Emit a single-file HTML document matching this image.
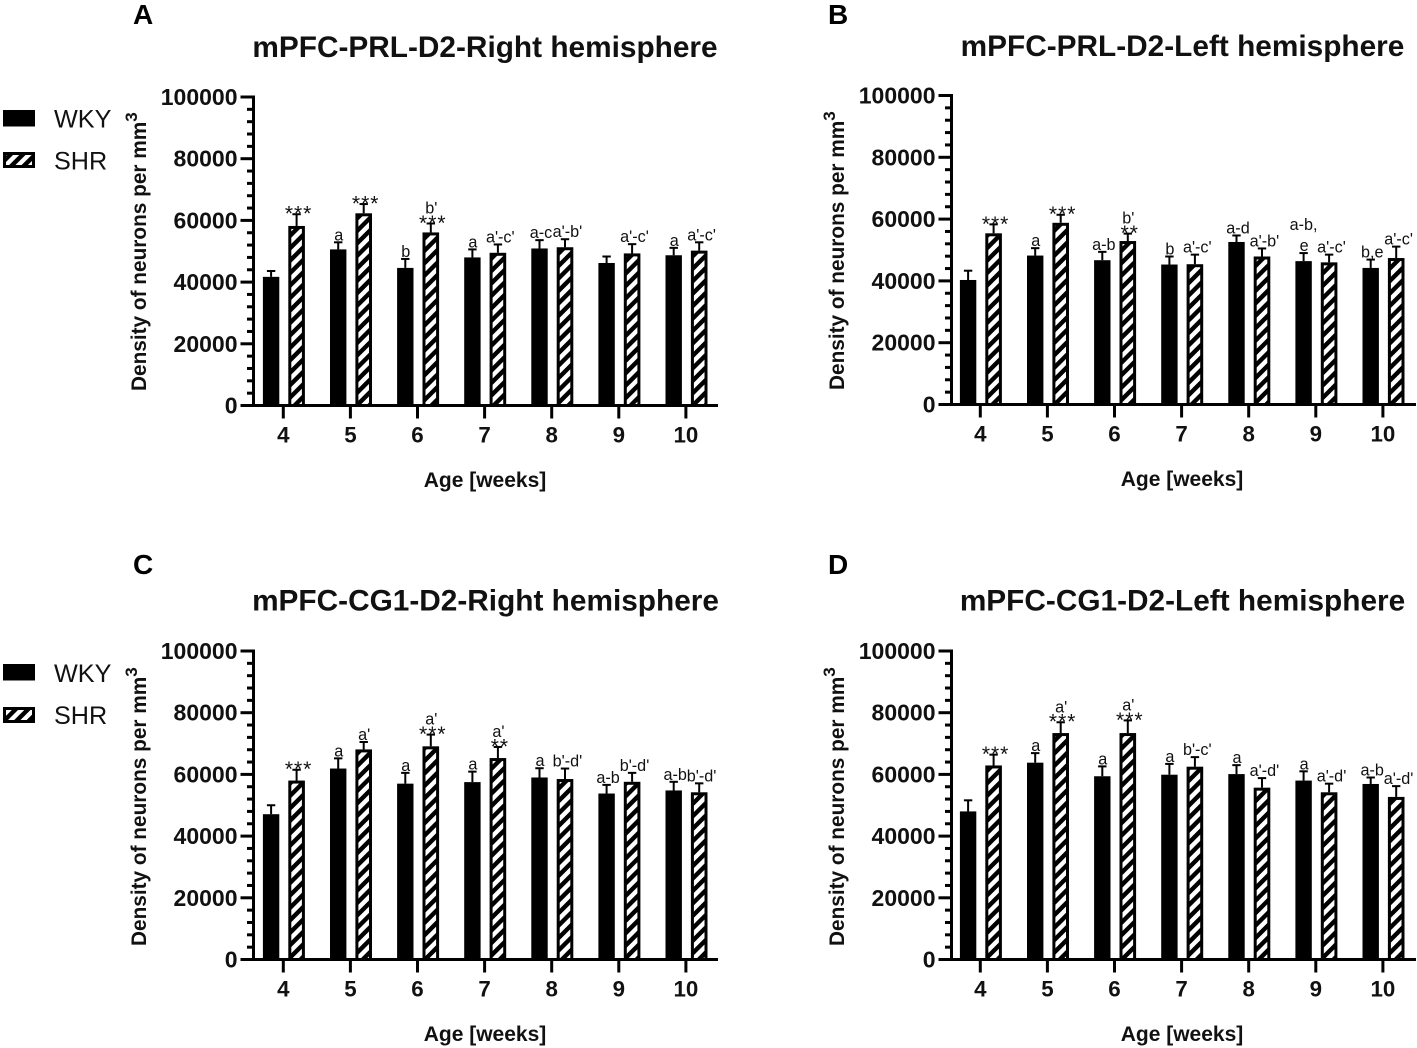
<!DOCTYPE html>
<html lang="en">
<head>
<meta charset="utf-8">
<title>Density of neurons per mm3 by age</title>
<style>
html,body{margin:0;padding:0;background:#fff;}
svg{display:block;font-family:"Liberation Sans",Arial,sans-serif;}
.title{font-weight:700;font-size:29.8px;text-anchor:middle;fill:#111;}
.letter{font-weight:700;font-size:28px;fill:#000;}
.legend{font-size:25.2px;fill:#111;}
.ylab{font-weight:700;font-size:20.8px;fill:#111;}
.xlab{font-weight:700;font-size:21px;text-anchor:middle;fill:#111;}
.tick-y{font-weight:700;font-size:23px;fill:#111;}
.tick-x{font-weight:700;font-size:22.3px;fill:#111;}
.note{font-size:16.2px;text-anchor:middle;fill:#111;}
.stars{font-size:21px;letter-spacing:1px;text-anchor:middle;fill:#111;}
</style>
</head>
<body>
<svg id="figure" xmlns="http://www.w3.org/2000/svg" width="1417" height="1048" viewBox="0 0 1417 1048">
<defs>
<pattern id="hatch" patternUnits="userSpaceOnUse" width="8.8" height="8.8" patternTransform="rotate(45)"><rect width="8.8" height="8.8" fill="#fff"/><rect width="4.4" height="8.8" fill="#000"/></pattern>
</defs>
<rect width="1417" height="1048" fill="#fff"/>

<g>
<text class="letter" x="133" y="24">A</text>
<text class="title" x="485" y="57">mPFC-PRL-D2-Right hemisphere</text>
</g>
<g>
<text class="letter" x="828" y="24">B</text>
<text class="title" x="1182.5" y="56">mPFC-PRL-D2-Left hemisphere</text>
</g>
<g>
<text class="letter" x="133" y="574">C</text>
<text class="title" x="485.5" y="610.5">mPFC-CG1-D2-Right hemisphere</text>
</g>
<g>
<text class="letter" x="828" y="574">D</text>
<text class="title" x="1182.5" y="610.5">mPFC-CG1-D2-Left hemisphere</text>
</g>

<g>
<g><rect x="3" y="110" width="32" height="16.5" fill="#000"/><text class="legend" x="54" y="127.5">WKY</text></g>
<g><rect x="4.5" y="153.5" width="29" height="13" fill="url(#hatch)" stroke="#000" stroke-width="3"/><text class="legend" x="54" y="169.5">SHR</text></g>
</g>
<g>
<g><rect x="3" y="664" width="32" height="16.5" fill="#000"/><text class="legend" x="54" y="682">WKY</text></g>
<g><rect x="4.5" y="708.5" width="29" height="13" fill="url(#hatch)" stroke="#000" stroke-width="3"/><text class="legend" x="54" y="724">SHR</text></g>
</g>

<text class="ylab" transform="translate(146,391) rotate(-90)">Density of neurons per mm<tspan font-size="17" dy="-9">3</tspan></text>
<text class="ylab" transform="translate(844,390) rotate(-90)">Density of neurons per mm<tspan font-size="17" dy="-9">3</tspan></text>
<text class="ylab" transform="translate(146,946) rotate(-90)">Density of neurons per mm<tspan font-size="17" dy="-9">3</tspan></text>
<text class="ylab" transform="translate(844,946) rotate(-90)">Density of neurons per mm<tspan font-size="17" dy="-9">3</tspan></text>

<text class="xlab" x="485" y="487">Age [weeks]</text>
<text class="xlab" x="1182" y="486">Age [weeks]</text>
<text class="xlab" x="485" y="1041">Age [weeks]</text>
<text class="xlab" x="1182" y="1041">Age [weeks]</text>
</svg>

<script>
const categories = ["4", "5", "6", "7", "8", "9", "10"];
const yTickLabels = [0, 20000, 40000, 60000, 80000, 100000];

const aWky = [41700, 50600, 44600, 48000, 50900, 46200, 48700];
const aWkyErr = [1900, 2300, 2900, 2600, 2700, 2100, 2400];
const aShr = [58200, 62300, 56100, 49500, 51300, 49300, 50200];
const aShrErr = [3800, 3000, 2900, 2700, 2600, 3000, 2700];
const aWkyNotes = [[], ["a"], ["b"], ["a"], ["a-c"], [], ["a"]];
const aShrNotes = [["***"], ["***"], ["b'", "***"], ["a'-c'"], ["a'-b'"], ["a'-c'"], ["a'-c'"]];

const bWky = [40300, 48200, 46700, 45300, 52600, 46400, 44200];
const bWkyErr = [3000, 2400, 2700, 2600, 2100, 2600, 2700];
const bShr = [55400, 58800, 52900, 45400, 47900, 46000, 47400];
const bShrErr = [2900, 2600, 2400, 3100, 2600, 2500, 3700];
const bWkyNotes = [[], ["a"], ["a-b"], ["b"], ["a-d"], ["a-b,", "e"], ["b,e"]];
const bShrNotes = [["***"], ["***"], ["b'", "**"], ["a'-c'"], ["a'-b'"], ["a'-c'"], ["a'-c'"]];

const cWky = [47100, 61900, 57000, 57500, 59000, 53800, 54800];
const cWkyErr = [2900, 3300, 3500, 3400, 3000, 2800, 2800];
const cShr = [58000, 68100, 69100, 65300, 58500, 57600, 54200];
const cShrErr = [3500, 2400, 3800, 3600, 3400, 2900, 2900];
const cWkyNotes = [[], ["a"], ["a"], ["a"], ["a"], ["a-b"], ["a-b"]];
const cShrNotes = [["***"], ["a'"], ["a'", "***"], ["a'", "**"], ["b'-d'"], ["b'-d'"], ["b'-d'"]];

const dWky = [48000, 63800, 59400, 59900, 60100, 58000, 56900];
const dWkyErr = [3600, 3100, 3200, 3500, 2900, 3000, 2100];
const dShr = [62900, 73400, 73400, 62500, 55700, 54200, 52700];
const dShrErr = [3500, 3500, 4100, 3100, 3100, 2800, 3500];
const dWkyNotes = [[], ["a"], ["a"], ["a"], ["a"], ["a"], ["a-b"]];
const dShrNotes = [["***"], ["a'", "***"], ["a'", "***"], ["b'-c'"], ["a'-d'"], ["a'-d'"], ["a'-d'"]];

const panels = [
  {id: "a", wky: aWky, wkyErr: aWkyErr, shr: aShr, shrErr: aShrErr, wkyNotes: aWkyNotes, shrNotes: aShrNotes, axisX: 253.5, y0: 405.5, yTop: 97, firstTick: 283.3},
  {id: "b", wky: bWky, wkyErr: bWkyErr, shr: bShr, shrErr: bShrErr, wkyNotes: bWkyNotes, shrNotes: bShrNotes, axisX: 951.5, y0: 404.5, yTop: 95.5, firstTick: 980.3},
  {id: "c", wky: cWky, wkyErr: cWkyErr, shr: cShr, shrErr: cShrErr, wkyNotes: cWkyNotes, shrNotes: cShrNotes, axisX: 253.5, y0: 959.5, yTop: 651, firstTick: 283.3},
  {id: "d", wky: dWky, wkyErr: dWkyErr, shr: dShr, shrErr: dShrErr, wkyNotes: dWkyNotes, shrNotes: dShrNotes, axisX: 951.5, y0: 959.5, yTop: 651, firstTick: 980.3}
];

const SVG_NS = "http://www.w3.org/2000/svg";
const figure = document.getElementById("figure");
const TICK_STEP = 67.1;
const Y_MAX = 100000;

function make(parent, tag, attrs, text) {
  const el = document.createElementNS(SVG_NS, tag);
  for (const key in attrs) el.setAttribute(key, attrs[key]);
  if (text !== undefined) el.textContent = text;
  parent.appendChild(el);
  return el;
}

function noteShift(note, hatched) {
  if (note.charAt(0) === "*") return hatched ? 2 : 0;
  if (note.length > 3) return hatched ? 2.4 : 0;
  if (note.length === 3) return 1.5;
  return 0.5;
}

function drawSeries(group, panel, yScale, xCenter, values, errors, notes, hatched, seriesName) {
  values.forEach(function (value, i) {
    const cx = xCenter(i);
    const top = yScale(value);
    const errTop = yScale(value + errors[i]);

    const stem = make(group, "line", {x1: cx, x2: cx, y1: top, y2: errTop, stroke: "#000", "stroke-width": 2});
    
    
    const cap = make(group, "line", {x1: cx - 4.2, x2: cx + 4.2, y1: errTop, y2: errTop, stroke: "#000", "stroke-width": 2});
    
    

    const bar = hatched
      ? make(group, "rect", {x: cx - 6.8, y: top + 1.5, width: 13.6, height: Math.max(0, panel.y0 - top - 1.5), fill: "url(#hatch)", stroke: "#000", "stroke-width": 3})
      : make(group, "rect", {x: cx - 8.2, y: top, width: 16.4, height: Math.max(0, panel.y0 - top), fill: "#000"});
    
    

    let baseline = errTop - 2;
    const stack = notes[i].slice().reverse();
    stack.forEach(function (note) {
      const isStars = note.charAt(0) === "*";
      const label = make(group, "text", {
        class: isStars ? "stars" : "note",
        x: cx + noteShift(note, hatched),
        y: isStars ? baseline + 8.4 : baseline
      }, note);
      
      
      baseline -= isStars ? 8 : (note === "e" ? 21 : 15);
    });
  });
}

panels.forEach(function (panel) {
  const group = make(figure, "g", {});
  
  

  const yScale = function (v) { return panel.y0 - (v / Y_MAX) * (panel.y0 - panel.yTop); };
  const xTick = function (i) { return panel.firstTick + i * TICK_STEP; };

  drawSeries(group, panel, yScale, function (i) { return xTick(i) - 12.2; }, panel.wky, panel.wkyErr, panel.wkyNotes, false, 'wky');
  drawSeries(group, panel, yScale, function (i) { return xTick(i) + 13.3; }, panel.shr, panel.shrErr, panel.shrNotes, true, 'shr');

  const yAxis = make(group, "line", {x1: panel.axisX, x2: panel.axisX, y1: panel.yTop - 1.5, y2: panel.y0 + 1.5, stroke: "#000", "stroke-width": 3});
  
  
  const xAxis = make(group, "line", {x1: panel.axisX - 13, x2: panel.axisX + 464.5, y1: panel.y0, y2: panel.y0, stroke: "#000", "stroke-width": 3});
  
  

  yTickLabels.forEach(function (v, i) {
    const y = yScale(v);
    const major = make(group, "line", {x1: panel.axisX - 13, x2: panel.axisX, y1: y, y2: y, stroke: "#000", "stroke-width": 3});
    
    
    const label = make(group, "text", {class: "tick-y", x: panel.axisX - 16, y: y + 8, "text-anchor": "end"}, String(v));
    
    
    if (i < yTickLabels.length - 1) {
      const next = yTickLabels[i + 1];
      for (let k = 1; k < 5; k++) {
        const my = yScale(v + (next - v) * k / 5);
        const minor = make(group, "line", {x1: panel.axisX - 6.5, x2: panel.axisX, y1: my, y2: my, stroke: "#000", "stroke-width": 3});
        
        
      }
    }
  });

  categories.forEach(function (cat, i) {
    const x = xTick(i);
    const tick = make(group, "line", {x1: x, x2: x, y1: panel.y0, y2: panel.y0 + 13, stroke: "#000", "stroke-width": 3});
    
    
    const label = make(group, "text", {class: "tick-x", x: x, y: panel.y0 + 37, "text-anchor": "middle"}, cat);
    
    
  });
});
</script>
</body>
</html>
